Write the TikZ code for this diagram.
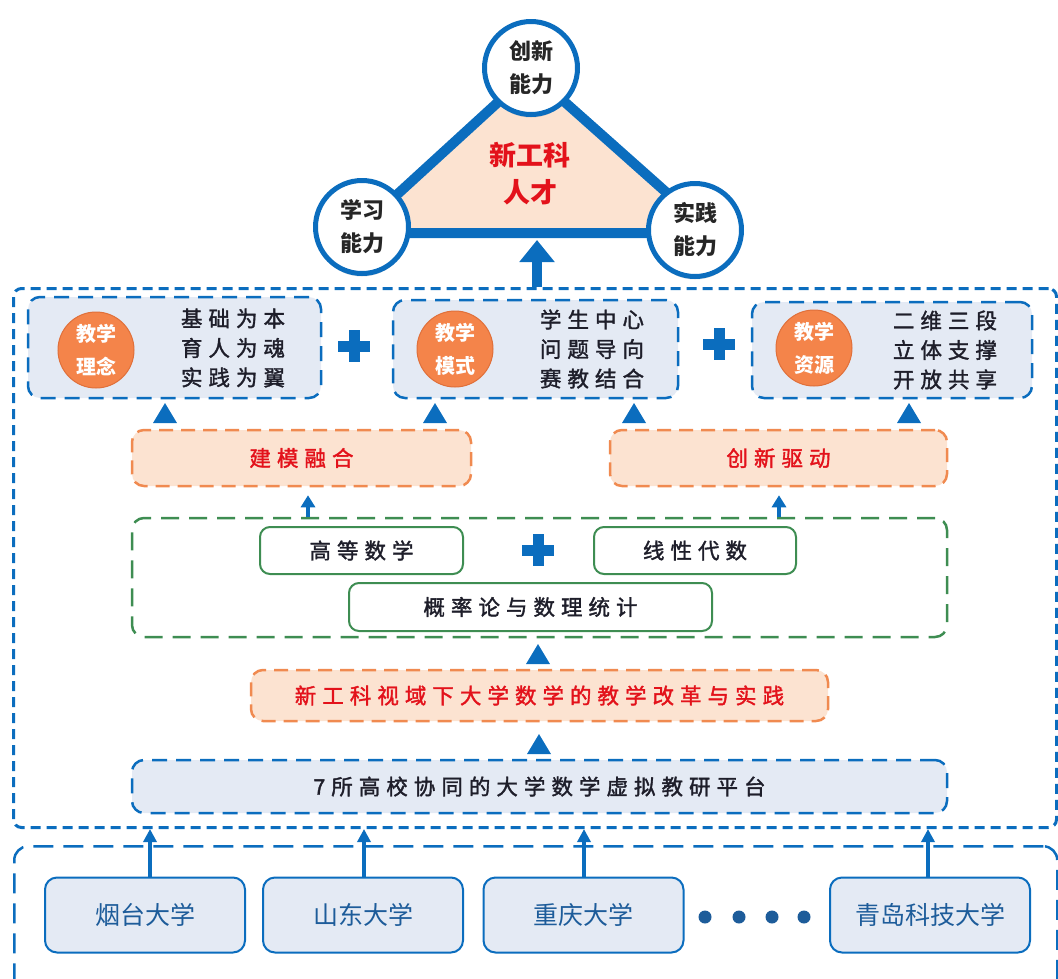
\documentclass[tikz,border=0pt]{standalone}
\usepackage{fontspec}
\setmainfont{Noto Sans CJK SC}
\newfontfamily\spc{Noto Sans CJK SC}[LetterSpace=28, FakeBold=1.6]
\usetikzlibrary{arrows.meta,shadows,calc}
\definecolor{myblue}{HTML}{0B6DBE}
\definecolor{boxfill}{HTML}{E4EAF4}
\definecolor{peach}{HTML}{FCE3D1}
\definecolor{orangeb}{HTML}{F08A50}
\definecolor{orangec}{HTML}{F4844A}
\definecolor{orangedk}{HTML}{E0703A}
\definecolor{myred}{HTML}{E3121B}
\definecolor{mygreen}{HTML}{3E8D52}
\definecolor{unitext}{HTML}{1D5C9A}
\definecolor{darktext}{HTML}{1E1E2A}
\tikzset{
  capcircle/.style={circle, draw=myblue, line width=5pt, fill=white, minimum size=93pt, inner sep=0pt,
    font=\fontsize{22}{33}\selectfont\bfseries, text=black!85, align=center,
    drop shadow={opacity=0.25, shadow xshift=0pt, shadow yshift=-3pt}},
  tbox/.style={draw=myblue, fill=boxfill, line width=2.5pt, dash pattern=on 15pt off 9pt, rounded corners=12pt, inner sep=0pt},
  obox/.style={draw=orangeb, fill=peach, line width=2.5pt, dash pattern=on 14pt off 8pt, rounded corners=12pt, inner sep=0pt,
    text=myred, font=\fontsize{21.5}{25}\spc},
  gbox/.style={draw=mygreen, line width=2pt, rounded corners=10pt, fill=white, inner sep=0pt,
    text=darktext, font=\fontsize{21.5}{25}\spc},
  ocirc/.style={circle, fill=orangec, draw=orangedk, line width=1pt, minimum size=76pt, inner sep=0pt,
    text=white, font=\fontsize{20}{33}\selectfont\bfseries, align=center},
  lines/.style={text=darktext, font=\fontsize{21.5}{29.5}\spc, align=center},
  uni/.style={draw=myblue, fill=boxfill, line width=2pt, rounded corners=12pt, minimum width=200pt, minimum height=75pt,
    text=unitext, font=\fontsize{25}{30}\selectfont},
  uarr/.style={draw=myblue, line width=3.5pt, -{Triangle[width=13pt,length=13pt]}},
  sarr/.style={draw=myblue, line width=4pt, -{Triangle[width=14pt,length=12pt]}},
  bigarr/.style={draw=myblue, line width=10pt, -{Triangle[width=34pt,length=22pt]}},
  bplus/.pic={\fill[myblue] (-16,-5.5) rectangle (16,5.5); \fill[myblue] (-5.5,-16) rectangle (5.5,16);},
  uptri/.pic={\fill[myblue] (-12,10) -- (0,-10) -- (12,10) -- cycle;},
  dot/.style={circle, fill=unitext, minimum size=13pt, inner sep=0pt}
}
\begin{document}
\begin{tikzpicture}[x=1pt,y=-1pt]
\useasboundingbox (0,0) rectangle (1058,978);

% bottom container and outer frame
\node[draw=myblue, dash pattern=on 20pt off 10pt, line width=2.5pt, rounded corners=14pt,
  minimum width=1043pt, minimum height=150pt, anchor=north west, inner sep=0pt] (base) at (13,845) {};
\node[draw=myblue, dash pattern=on 10pt off 6pt, line width=3pt, rounded corners=8pt,
  minimum width=1043pt, minimum height=539pt, anchor=north west, inner sep=0pt] (outer) at (12,287) {};

% triangle of abilities
\filldraw[fill=peach, draw=myblue, line width=10pt, line join=round] (531,72) -- (355,233) -- (712,233) -- cycle;
\node[text=myred, font=\fontsize{27}{37}\selectfont\bfseries, align=center] (talent) at (530,174) {新工科\\人才};
\node[capcircle] (cx) at (531,68) {创新\\能力};
\node[capcircle] (xx) at (362,227) {学习\\能力};
\node[capcircle] (sj) at (695,230) {实践\\能力};
\coordinate (tb) at (537,240);
\draw[bigarr] (outer.north -| tb) -- (tb);

% top three boxes
\node[tbox, minimum width=293pt, minimum height=101pt] (b1) at (174.5,347.5) {};
\node[tbox, minimum width=285pt, minimum height=98pt] (b2) at (535.5,349) {};
\node[tbox, minimum width=280pt, minimum height=96pt] (b3) at (892,350) {};
\node[ocirc] (c1) at (96,350) {教学\\理念};
\node[ocirc] (c2) at (455,349) {教学\\模式};
\node[ocirc] (c3) at (814,348) {教学\\资源};
\node[lines] (t1) at (233,348) {基础为本\\育人为魂\\实践为翼};
\node[lines] (t2) at (592,349) {学生中心\\问题导向\\赛教结合};
\node[lines] (t3) at (945,350) {二维三段\\立体支撑\\开放共享};
\pic at (354,346) {bplus};
\pic at (719,344) {bplus};

\pic at (165,413) {uptri};
\pic at (435,413) {uptri};
\pic at (634,413) {uptri};
\pic at (909,413) {uptri};

% orange boxes
\node[obox, minimum width=339pt, minimum height=56pt] (jm) at (301.5,458) {建模融合};
\node[obox, minimum width=337pt, minimum height=56pt] (cq) at (778.5,458) {创新驱动};

% green group
\node[draw=mygreen, line width=2.5pt, dash pattern=on 18pt off 10pt, rounded corners=12pt,
  minimum width=815pt, minimum height=119pt, inner sep=0pt] (green) at (539.5,577.5) {};
\node[gbox, minimum width=203pt, minimum height=47pt] (gs) at (361.5,550.5) {高等数学};
\node[gbox, minimum width=202pt, minimum height=47pt] (xd) at (695,550.5) {线性代数};
\node[gbox, minimum width=363pt, minimum height=48pt] (gl) at (530.5,607) {概率论与数理统计};
\pic at (538,550) {bplus};
\draw[sarr] ([xshift=6.5pt]jm.south |- green.north) -- ([xshift=6.5pt,yshift=-8pt]jm.south);
\draw[sarr] ([xshift=0.5pt]cq.south |- green.north) -- ([xshift=0.5pt,yshift=-8pt]cq.south);

\pic at (538,654) {uptri};
\node[obox, minimum width=577pt, minimum height=51pt] (reform) at (539.5,695.5) {新工科视域下大学数学的教学改革与实践};
\pic at (539,744) {uptri};
\node[tbox, minimum width=815pt, minimum height=53pt, text=darktext, font=\fontsize{21.5}{25}\spc] (plat) at (539.5,786.5) {7所高校协同的大学数学虚拟教研平台};

% universities
\node[uni] (u1) at (145,915) {烟台大学};
\node[uni] (u2) at (363,915) {山东大学};
\node[uni] (u3) at (583.5,915) {重庆大学};
\node[uni] (u4) at (930,915) {青岛科技大学};
\draw[uarr] ([xshift=5pt]u1.north) -- ([xshift=5pt]u1.north |- outer.south);
\draw[uarr] ([xshift=1pt]u2.north) -- ([xshift=1pt]u2.north |- outer.south);
\draw[uarr] ([xshift=0.5pt]u3.north) -- ([xshift=0.5pt]u3.north |- outer.south);
\draw[uarr] ([xshift=-2pt]u4.north) -- ([xshift=-2pt]u4.north |- outer.south);
\node[dot] (d1) at (705,917) {};
\node[dot] (d2) at (739,917) {};
\node[dot] (d3) at (772,917) {};
\node[dot] (d4) at (804,917) {};
\end{tikzpicture}
\end{document}
